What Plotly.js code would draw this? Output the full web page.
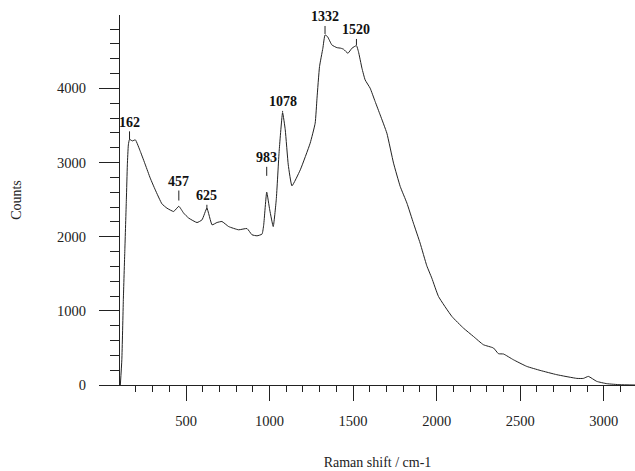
<!DOCTYPE html>
<html>
<head>
<meta charset="utf-8">
<script src="https://cdn.plot.ly/plotly-3.0.1.min.js"></script>
<style>html,body{margin:0;padding:0;background:#fff;}#chart{width:635px;height:471px;}</style>
</head>
<body>
<div id="chart"></div>
<script>
// Raman spectrum
var ramanShift = [107,116,125,134,143,149,155,162,179,197,227,257,286,316,356,386,426,457,486,516,566,596,625,656,685,715,755,815,865,895,925,955,965,983,1001,1022,1040,1058,1078,1094,1112,1134,1184,1243,1273,1284,1299,1319,1332,1347,1373,1403,1427,1443,1469,1493,1520,1532,1553,1572,1602,1632,1662,1702,1742,1782,1822,1861,1901,1941,1971,2011,2091,2160,2220,2280,2340,2370,2400,2459,2539,2619,2719,2839,2878,2908,2958,3018,3097,3187];
var counts = [0,341,1150,1824,2497,2969,3238,3313,3292,3306,3148,2968,2790,2632,2443,2385,2340,2410,2318,2251,2191,2228,2385,2160,2191,2205,2137,2093,2110,2026,2012,2035,2160,2601,2362,2137,2497,3171,3674,3441,2969,2686,2902,3261,3531,3868,4294,4542,4721,4698,4586,4550,4542,4528,4474,4542,4577,4496,4272,4115,4003,3822,3643,3396,2992,2677,2453,2183,1914,1608,1442,1194,925,768,655,543,499,422,418,341,251,197,139,89,89,116,49,18,4,0];

// Labelled peaks: position, label, level where the marker line ends, offset of label
var peakX = [162, 457, 625, 983, 1078, 1332, 1520];
var peakLabels = ['162', '457', '625', '983', '1078', '1332', '1520'];
var peakLineY = [3313, 2488, 2363, 2821, 3683, 4734, 4586];
var peakLabelOffset = [-17, -19, -14, -18, -10, -17, -15];

var serif = 'Liberation Serif, Times New Roman, serif';

var annotations = peakX.map(function (px, i) {
  return {
    x: px, y: peakLineY[i], xref: 'x', yref: 'y',
    text: '<b>' + peakLabels[i] + '</b>',
    showarrow: true, arrowhead: 0, arrowwidth: 1, arrowcolor: '#222',
    ax: 0, ay: peakLabelOffset[i], standoff: 0,
    font: {family: serif, size: 14, color: '#111'}
  };
});

var trace = {
  x: ramanShift, y: counts, type: 'scatter', mode: 'lines',
  line: {color: '#222', width: 1, shape: 'spline', smoothing: 0.4}, hoverinfo: 'skip'
};

var layout = {
  width: 635, height: 471,
  margin: {l: 120, r: 0, t: 15, b: 86},
  paper_bgcolor: '#fff', plot_bgcolor: '#fff',
  showlegend: false,
  font: {family: serif, size: 14, color: '#222'},
  xaxis: {
    range: [105, 3187], showgrid: false, zeroline: false,
    showline: true, linecolor: '#222', linewidth: 1,
    ticks: 'outside', ticklen: 15, tickwidth: 1, tickcolor: '#222',
    dtick: 500, tick0: 0, ticklabelstandoff: 8,
    tickfont: {family: serif, size: 14.5, color: '#222'},
    minor: {dtick: 100, tick0: 0, ticks: 'outside', ticklen: 6, tickwidth: 1, tickcolor: '#222', showgrid: false},
    title: {text: 'Raman shift / cm-1', standoff: 28, font: {family: serif, size: 14, color: '#222'}}
  },
  yaxis: {
    range: [0, 4990], showgrid: false, zeroline: false,
    showline: true, linecolor: '#222', linewidth: 1,
    ticks: 'outside', ticklen: 20, tickwidth: 1, tickcolor: '#222',
    dtick: 1000, tick0: 0, ticklabelstandoff: 10,
    tickfont: {family: serif, size: 14.5, color: '#222'},
    minor: {dtick: 200, tick0: 0, ticks: 'outside', ticklen: 9, tickwidth: 1, tickcolor: '#222', showgrid: false},
    title: {text: 'Counts', standoff: 32, font: {family: serif, size: 14, color: '#222'}}
  },
  annotations: annotations
};

Plotly.newPlot('chart', [trace], layout, {displayModeBar: false, staticPlot: true});
</script>
</body>
</html>
